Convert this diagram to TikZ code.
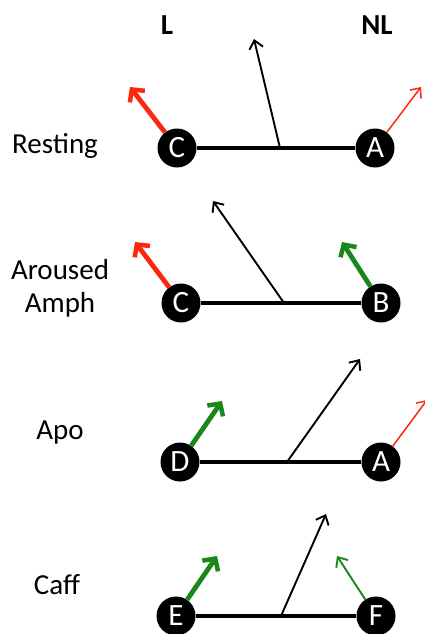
\documentclass[tikz,border=0pt]{standalone}
\usepackage{fontspec}
\setmainfont{Carlito}
\usetikzlibrary{arrows.meta}
\definecolor{ared}{RGB}{250,40,15}
\definecolor{agreen}{RGB}{25,135,25}
\tikzset{
  dot/.style={circle,fill=black,minimum size=39pt,inner sep=0pt,text=white,font=\fontsize{31}{32}\selectfont},
  lab/.style={font=\fontsize{29}{33}\selectfont,align=center},
  head/.style={font=\fontsize{29}{31}\selectfont\bfseries},
  bar/.style={line width=3.2pt},
  thinblack/.style={line width=1.9pt,-{Straight Barb[length=8pt,width=14pt,line width=1.9pt]}},
  thickred/.style={ared,line width=4.8pt,-{Straight Barb[length=9pt,width=19pt,line width=4.5pt]}},
  thinred/.style={ared,line width=1.5pt,-{Straight Barb[length=8pt,width=14pt,line width=1.5pt]}},
  thickgreen/.style={agreen,line width=4.8pt,-{Straight Barb[length=9pt,width=19pt,line width=4.5pt]}},
  thingreen/.style={agreen,line width=1.9pt,-{Straight Barb[length=8pt,width=14pt,line width=1.9pt]}},
}
\begin{document}
\begin{tikzpicture}[x=1pt,y=-1pt]
\useasboundingbox (0,0) rectangle (425,634);
% headers
\node[head] (hL) at (167,25) {L};
\node[head] (hNL) at (377,25) {NL};
% panel 1
\node[lab] (l1) at (55,146) {Resting};
\node[dot] (c1) at (177,148) {C};
\node[dot] (a1) at (375,148) {A};
\coordinate (m1) at (280,148);
\coordinate (t1) at (254,39);
\coordinate (r1) at (130,87);
\coordinate (r1b) at (421,87);
\draw[bar] (c1) -- (a1);
\draw[thinblack] (m1) -- (t1);
\draw[thickred] (c1) -- (r1);
\draw[thinred] (a1) -- (r1b);
% panel 2
\node[lab] (l2) at (60,288) {Aroused\\Amph};
\node[dot] (c2) at (181,303) {C};
\node[dot] (b2) at (381,303) {B};
\coordinate (m2) at (284,303);
\coordinate (t2) at (213,201);
\coordinate (r2) at (135,242);
\coordinate (g2) at (342,242);
\draw[bar] (c2) -- (b2);
\draw[thinblack] (m2) -- (t2);
\draw[thickred] (c2) -- (r2);
\draw[thickgreen] (b2) -- (g2);
% panel 3
\node[lab] (l3) at (60,433) {Apo};
\node[dot] (d3) at (180,462) {D};
\node[dot] (a3) at (381,462) {A};
\coordinate (m3) at (287,462);
\coordinate (t3) at (360,359);
\coordinate (g3) at (222,401);
\coordinate (r3) at (427,400);
\draw[bar] (d3) -- (a3);
\draw[thinblack] (m3) -- (t3);
\draw[thickgreen] (d3) -- (g3);
\draw[thinred] (a3) -- (r3);
% panel 4
\node[lab] (l4) at (57,585) {Caff};
\node[dot] (e4) at (176,616) {E};
\node[dot] (f4) at (376,616) {F};
\coordinate (m4) at (281,616);
\coordinate (t4) at (326,514);
\coordinate (g4) at (217,556);
\coordinate (g4b) at (337,556);
\draw[bar] (e4) -- (f4);
\draw[thinblack] (m4) -- (t4);
\draw[thickgreen] (e4) -- (g4);
\draw[thingreen] (f4) -- (g4b);
\end{tikzpicture}
\end{document}
